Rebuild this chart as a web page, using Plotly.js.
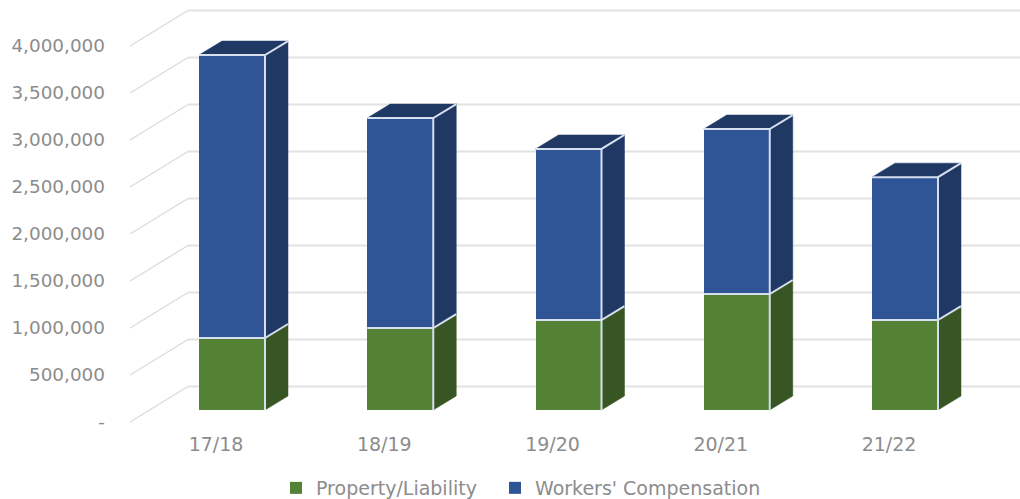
<!DOCTYPE html>
<html>
<head>
<meta charset="utf-8">
<script src="https://cdn.plot.ly/plotly-3.0.1.min.js"></script>
<style>html,body{margin:0;padding:0;background:#fff;overflow:hidden}</style>
</head>
<body>
<div id="chart" style="width:1020px;height:499px"></div>
<script>
// Annual claim costs by fiscal year, stacked by line of coverage
const categories = ['17/18', '18/19', '19/20', '20/21', '21/22'];
const propertyLiability = [766000, 872000, 957000, 1234000, 957000];
const workersComp = [3010000, 2234000, 1820000, 1755000, 1520000];
const tickValues = [0, 500000, 1000000, 1500000, 2000000, 2500000, 3000000, 3500000, 4000000];
const tickLabels = ['-', '500,000', '1,000,000', '1,500,000', '2,000,000', '2,500,000', '3,000,000', '3,500,000', '4,000,000'];

// Pixel calibration of the oblique projection
const W = 1020, H = 499, plotL = 128, plotB = 430;
const pxPerCat = 168.25, pxPerVal = 94 / 1e6;
const labelX0 = 216, axisY0 = 422;      // front plane: first category label, zero value
const barX0 = 232, barY0 = 410;         // bar plane sits partway into the box
const wallDX = 58, wallDY = 35.5;       // front plane to back wall
const barPx = 66, depthDX = 23, depthDY = 14;

const toCat = px => px / pxPerCat, toVal = px => px / pxPerVal;
const xRange = x0 => [toCat(plotL - x0), toCat(W - x0)];
const yRange = y0 => [toVal(y0 - plotB), toVal(y0)];

const idx = categories.map((_, i) => i);
const halfBar = toCat(barPx) / 2, ddx = toCat(depthDX), ddy = toVal(depthDY);
const totals = idx.map(i => propertyLiability[i] + workersComp[i]);

// Slanted floor-to-wall gridlines, then the wall rules behind the bars
const wallX = [], wallY = [];
const frontLeft = toCat(130 - labelX0), backLeft = frontLeft + toCat(wallDX), wallRight = toCat(W - labelX0);
const diagX = [], diagY = [];
tickValues.forEach(v => {
  diagX.push(frontLeft, backLeft, null);
  diagY.push(v, v + toVal(wallDY), null);
  wallX.push(backLeft, wallRight, null);
  wallY.push(v + toVal(wallDY), v + toVal(wallDY), null);
});

// Right-hand side face of each stack segment
function sideFace(lo, hi) {
  const xs = [], ys = [];
  idx.forEach(i => {
    const r = i + halfBar;
    xs.push(r, r + ddx, r + ddx, r, r, null);
    ys.push(lo[i], lo[i] + ddy, hi[i] + ddy, hi[i], lo[i], null);
  });
  return {x: xs, y: ys};
}
// Top cap of each stack
function topFace() {
  const xs = [], ys = [];
  idx.forEach(i => {
    const l = i - halfBar, r = i + halfBar, t = totals[i];
    xs.push(l, r, r + ddx, l + ddx, l, null);
    ys.push(t, t, t + ddy, t + ddy, t, null);
  });
  return {x: xs, y: ys};
}
// Pale highlights: top and right of the front face, the segment joint, and the edges running back
function highlightEdges() {
  const xs = [], ys = [];
  idx.forEach(i => {
    const l = i - halfBar, r = i + halfBar, t = totals[i], g = propertyLiability[i];
    xs.push(l, r, r + ddx, null, r, r, null, l, r, r + ddx, null);
    ys.push(t, t, t + ddy, null, t, 0, null, g, g, g + ddy, null);
  });
  return {x: xs, y: ys};
}

const zeros = idx.map(() => 0);
const polyStyle = color => ({
  type: 'scatter', mode: 'lines', fill: 'toself', fillcolor: color,
  line: {color: color, width: 0.5}, xaxis: 'x2', yaxis: 'y2', showlegend: false, hoverinfo: 'skip'
});

const traces = [
  {type: 'scatter', mode: 'lines', x: diagX, y: diagY, line: {color: '#dcdcdc', width: 1.4}, showlegend: false, hoverinfo: 'skip'},
  {type: 'scatter', mode: 'lines', x: wallX, y: wallY, line: {color: '#e2e2e2', width: 1.8}, showlegend: false, hoverinfo: 'skip'},
  {type: 'bar', name: 'Property/Liability', x: idx, y: propertyLiability, width: toCat(barPx), xaxis: 'x2', yaxis: 'y2',
   legendwidth: 174, marker: {color: '#548235'}},
  {type: 'bar', name: "Workers' Compensation", x: idx, y: workersComp, width: toCat(barPx), xaxis: 'x2', yaxis: 'y2',
   legendwidth: 240, marker: {color: '#2f5597'}},
  Object.assign(sideFace(zeros, propertyLiability), polyStyle('#375623')),
  Object.assign(sideFace(propertyLiability, totals), polyStyle('#1f3864')),
  Object.assign(topFace(), polyStyle('#1f3864')),
  Object.assign(highlightEdges(), {type: 'scatter', mode: 'lines', line: {color: '#d5dfee', width: 2}, xaxis: 'x2', yaxis: 'y2', showlegend: false, hoverinfo: 'skip'})
];

const fontFamily = '"DejaVu Sans", sans-serif', textColor = '#8c8c8c';
const layout = {
  width: W, height: H,
  margin: {l: plotL, r: 0, t: 0, b: H - plotB, pad: 0, autoexpand: false},
  paper_bgcolor: '#fff', plot_bgcolor: 'rgba(0,0,0,0)',
  barmode: 'stack', hovermode: false,
  xaxis: {type: 'linear', range: xRange(labelX0), tickmode: 'array', tickvals: idx, ticktext: categories,
          showgrid: false, zeroline: false, showline: false, ticks: '',
          tickfont: {family: fontFamily, size: 19, color: textColor}, ticklabelstandoff: 1},
  yaxis: {type: 'linear', range: yRange(axisY0), tickmode: 'array', tickvals: tickValues, ticktext: tickLabels,
          showgrid: false, zeroline: false, showline: false, ticks: '',
          tickfont: {family: fontFamily, size: 18.4, color: textColor}, ticklabelstandoff: 22},
  xaxis2: {type: 'linear', range: xRange(barX0), overlaying: 'x', anchor: 'y2', visible: false},
  yaxis2: {type: 'linear', range: yRange(barY0), overlaying: 'y', anchor: 'x2', visible: false},
  showlegend: true,
  legend: {orientation: 'h', x: 276 / W, xanchor: 'left', xref: 'container', y: 1 - 469 / H, yref: 'container', yanchor: 'top',
           font: {family: fontFamily, size: 19, color: textColor}, bgcolor: 'rgba(0,0,0,0)', traceorder: 'normal'}
};
Plotly.newPlot('chart', traces, layout, {displayModeBar: false, staticPlot: true});
</script>
</body>
</html>
